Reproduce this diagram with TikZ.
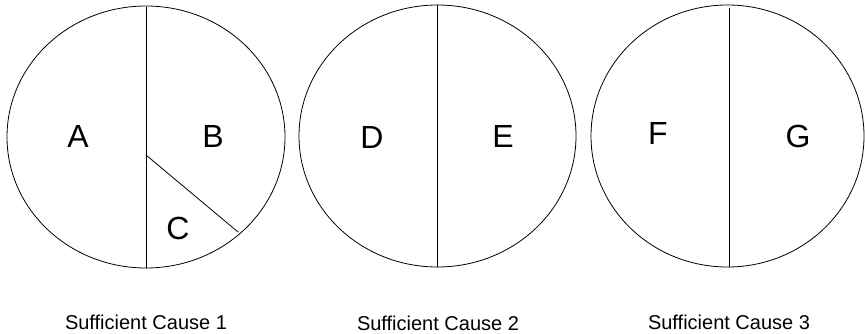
\documentclass[tikz,border=0pt]{standalone}
\usepackage{fontspec}
\setmainfont{Liberation Sans}
\usetikzlibrary{calc}

\begin{document}
\begin{tikzpicture}[x=1pt, y=-1pt, line cap=round, line join=round,
    rim/.style={line width=0.8pt},
    part/.style={font=\fontsize{32}{32}\selectfont, inner sep=0pt},
    cause/.style={font=\fontsize{20}{20}\selectfont, inner sep=0pt}]

  \useasboundingbox (0,0) rectangle (865,334);

  %--------------------------
  % Sufficient cause 1: A, B, C
  %--------------------------
  \draw[rim] (146,137) ellipse (139 and 131);
  \coordinate (top1) at (146,7);
  \coordinate (bot1) at (146,268);
  \coordinate (mid1) at (146,155);
  \coordinate (cut1) at (238,232);
  \draw[rim] (top1) -- (bot1);
  \draw[rim] (mid1) -- (cut1);

  \node[part] (A) at (78,136) {A};
  \node[part] (B) at (213,136) {B};
  \node[part] (C) at (178,228) {C};
  \node[cause] (sc1) at (146,322) {Sufficient Cause 1};

  %--------------------------
  % Sufficient cause 2: D, E
  %--------------------------
  \draw[rim] (437.5,136) ellipse (138.5 and 131);
  \coordinate (top2) at (437,5);
  \coordinate (bot2) at (437,267);
  \draw[rim] (top2) -- (bot2);

  \node[part] (D) at (372,137) {D};
  \node[part] (E) at (503,136) {E};
  \node[cause] (sc2) at (438,323) {Sufficient Cause 2};

  %--------------------------
  % Sufficient cause 3: F, G
  %--------------------------
  \draw[rim] (727.5,136) ellipse (136.5 and 131);
  \coordinate (top3) at (729,8);
  \coordinate (bot3) at (729,267);
  \draw[rim] (top3) -- (bot3);

  \node[part] (F) at (658,133) {F};
  \node[part] (G) at (798,136) {G};
  \node[cause] (sc3) at (729,322) {Sufficient Cause 3};

\end{tikzpicture}
\end{document}
